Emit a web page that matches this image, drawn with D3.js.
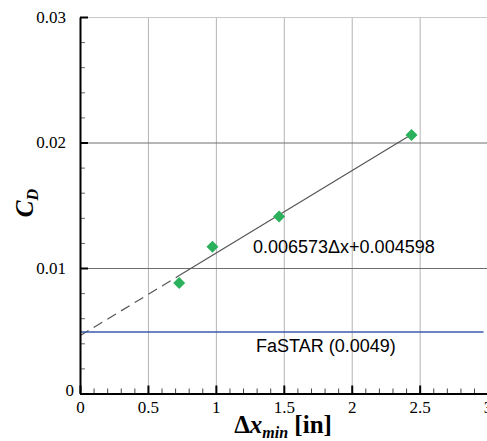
<!DOCTYPE html>
<html>
<head>
<meta charset="utf-8">
<script src="https://cdn.jsdelivr.net/npm/d3@7"></script>
<style>
  body { margin: 0; background: #fff; }
  svg { display: block; }
  .tick text { font-family: "Liberation Serif", "Times New Roman", serif; font-size: 17px; fill: #000; }
</style>
</head>
<body>
<svg id="chart"></svg>
<script>
// grid resolution study data
var dxMin = [0.73, 0.975, 1.465, 2.44];
var cdVals = [0.0088, 0.0117, 0.0141, 0.0206];
var fitSlope = 0.006573;
var fitIntercept = 0.004598;
var fastarCd = 0.0049;
var xTicks = [0, 0.5, 1, 1.5, 2, 2.5, 3];
var yTicks = [0, 0.01, 0.02, 0.03];
var fitLabel = "0.006573\u0394x+0.004598";
var fastarLabel = "FaSTAR (0.0049)";

var width = 487, height = 441;
var padL = 80, padR = 487.6, padT = 17, padB = 393.5;

var svg = d3.select("#chart").attr("width", width).attr("height", height);

var x = d3.scaleLinear().domain([0, 3]).range([padL, padR]);
var y = d3.scaleLinear().domain([0, 0.03]).range([padB, padT]);

var xMinor = d3.range(0, 3.001, 0.1).filter(function(v) { return Math.abs(v * 2 - Math.round(v * 2)) > 1e-6; });
var yMinor = d3.range(0, 0.0301, 0.002).filter(function(v) { return Math.abs(v * 100 - Math.round(v * 100)) > 1e-6; });

//vertical grid
svg.append("g")
   .attr("transform", "translate(0," + padB + ")")
   .call(d3.axisBottom(x).tickValues(xTicks.slice(1)).tickSize(-(padB - padT)).tickFormat(""))
   .call(function(g) { g.select(".domain").remove(); })
   .selectAll("line").attr("stroke", "#b4b4b4").attr("stroke-width", 1);

//horizontal grid
var hg = svg.append("g")
   .attr("transform", "translate(" + padL + ",0)")
   .call(d3.axisLeft(y).tickValues(yTicks.slice(1)).tickSize(-(padR - padL)).tickFormat(""));
hg.select(".domain").remove();
hg.selectAll("line").attr("stroke", function(d) { return d === 0.03 ? "#c8c8c8" : "#6e6e6e"; }).attr("stroke-width", 1);

//fit line: dashed extrapolation then solid over data range
var fitLine = d3.line().x(function(d) { return x(d); }).y(function(d) { return y(fitSlope * d + fitIntercept); });
svg.append("path")
   .attr("d", fitLine([0, dxMin[0]]))
   .attr("fill", "none").attr("stroke", "#555").attr("stroke-width", 1.2)
   .attr("stroke-dasharray", "10,6");
svg.append("path")
   .attr("d", fitLine([dxMin[0], dxMin[dxMin.length - 1]]))
   .attr("fill", "none").attr("stroke", "#555").attr("stroke-width", 1.2);

//FaSTAR reference
svg.append("line")
   .attr("x1", x(0)).attr("x2", x(2.97))
   .attr("y1", y(fastarCd)).attr("y2", y(fastarCd))
   .attr("stroke", "#3a5bab").attr("stroke-width", 1.5);

//points
svg.selectAll("path.pt")
   .data(dxMin)
   .enter()
   .append("path")
   .attr("class", "pt")
   .attr("d", d3.symbol().type(d3.symbolDiamond2).size(92))
   .attr("transform", function(d, i) { return "translate(" + x(d) + "," + y(cdVals[i]) + ")"; })
   .attr("fill", "#2bb15c");

//minor ticks
svg.append("g")
   .attr("transform", "translate(" + padL + ",0)")
   .call(d3.axisLeft(y).tickValues(yMinor).tickSize(-5).tickFormat(""))
   .call(function(g) { g.select(".domain").remove(); })
   .selectAll("line").attr("stroke", "#666");
svg.append("g")
   .attr("transform", "translate(0," + padB + ")")
   .call(d3.axisBottom(x).tickValues(xMinor).tickSize(-5).tickFormat(""))
   .call(function(g) { g.select(".domain").remove(); })
   .selectAll("line").attr("stroke", "#444");

//major axes
var yAx = svg.append("g")
   .attr("transform", "translate(" + padL + ",0)")
   .call(d3.axisLeft(y).tickValues(yTicks).tickSizeInner(-8).tickSizeOuter(0).tickPadding(14)
         .tickFormat(function(d) { return d === 0 ? "0" : d3.format(".2f")(d); }));
yAx.select(".domain").attr("stroke", "#000").attr("stroke-width", 2);
yAx.selectAll("line").attr("stroke", "#000").attr("stroke-width", 2);
yAx.selectAll("text").attr("dy", "0.32em");
yAx.select(".tick text").attr("dy", "0.1em").attr("x", -6);

var xAx = svg.append("g")
   .attr("transform", "translate(0," + padB + ")")
   .call(d3.axisBottom(x).tickValues(xTicks).tickSizeInner(-8).tickSizeOuter(0).tickPadding(4)
         .tickFormat(d3.format("")));
xAx.select(".domain").attr("stroke", "#000").attr("stroke-width", 2);
xAx.selectAll("line").attr("stroke", "#000").attr("stroke-width", 2);
xAx.selectAll("text").attr("y", 4).attr("dy", "0.9em");

//annotations
svg.append("text")
   .attr("x", 253).attr("y", 253)
   .attr("font-family", "Liberation Sans, Arial, sans-serif")
   .attr("font-size", "18px")
   .text(fitLabel);
svg.append("text")
   .attr("x", 256).attr("y", 352)
   .attr("font-family", "Liberation Sans, Arial, sans-serif")
   .attr("font-size", "18px")
   .text(fastarLabel);

//axis titles
var xt = svg.append("text")
   .attr("x", 283).attr("y", 433)
   .attr("text-anchor", "middle")
   .attr("font-family", "Liberation Serif, Times New Roman, serif")
   .attr("font-weight", "bold")
   .attr("font-size", "25px");
xt.append("tspan").text("\u0394");
xt.append("tspan").attr("font-style", "italic").text("x");
xt.append("tspan").attr("font-style", "italic").attr("font-size", "16px").attr("dy", 5).text("min");
xt.append("tspan").attr("dy", -5).text(" [in]");

var yt = svg.append("text")
   .attr("transform", "translate(33,203) rotate(-90)")
   .attr("text-anchor", "middle")
   .attr("font-family", "Liberation Serif, Times New Roman, serif")
   .attr("font-weight", "bold")
   .attr("font-style", "italic")
   .attr("font-size", "25px");
yt.append("tspan").text("C");
yt.append("tspan").attr("font-size", "16px").attr("dy", 5).text("D");
</script>
</body>
</html>
